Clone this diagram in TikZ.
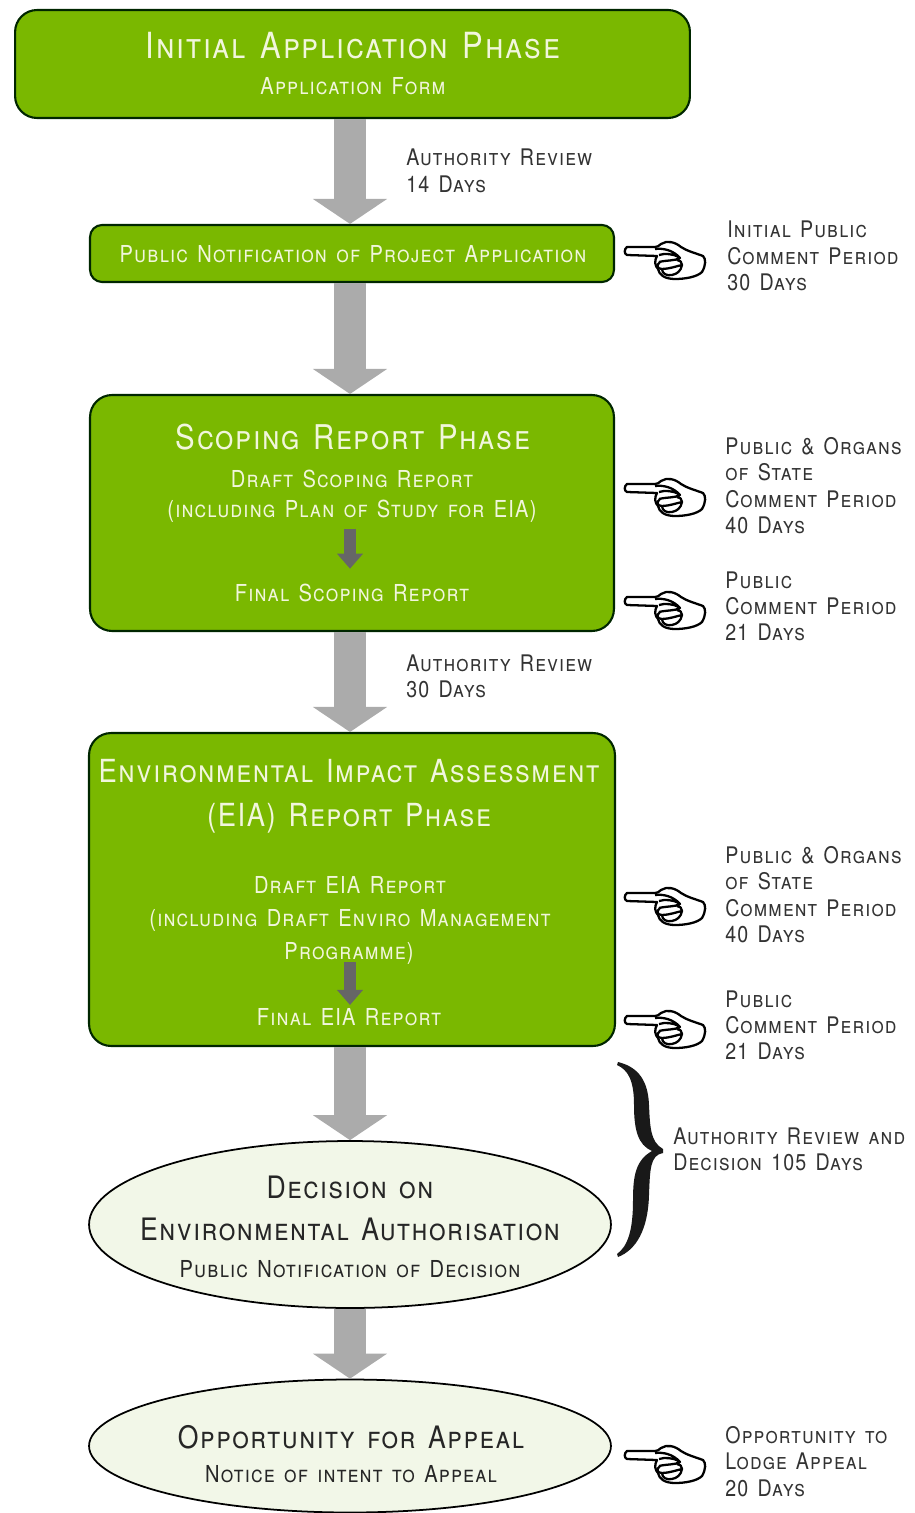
\documentclass[tikz,border=0pt]{standalone}
\usepackage{fontspec}
\setmainfont{TeX Gyre Heros}[Letters=SmallCaps,FakeStretch=0.86,LetterSpace=5,WordSpace=1.4]
\usetikzlibrary{arrows.meta,shapes.geometric}
\definecolor{phasegreen}{HTML}{7AB800}
\definecolor{palegreen}{HTML}{F2F7E8}
\definecolor{creamtext}{HTML}{F1F6DC}
\definecolor{flowgrey}{HTML}{ABABAB}
\definecolor{stepgrey}{HTML}{666666}
\definecolor{notetext}{HTML}{333333}
\tikzset{
  phasebox/.style={draw=black!85!green,line width=1.2pt,fill=phasegreen,rounded corners=0.44cm},
  ovalbox/.style={draw=black,line width=1pt,fill=palegreen,ellipse},
  flowarrow/.style={draw=flowgrey,line width=0.64cm,-{Triangle[length=0.5cm,width=1.46cm]}},
  steparrow/.style={draw=stepgrey,line width=0.24cm,-{Triangle[length=0.3cm,width=0.5cm]}},
  bigtext/.style={text=creamtext,font=\fontsize{#1}{#1}\selectfont,inner sep=0pt},
  midtext/.style={text=creamtext,font=\fontsize{13.3}{13.3}\selectfont,inner sep=0pt},
  ovalbig/.style={bigtext=17.6,text=black!85},
  ovalmid/.style={midtext,text=black!85},
  notetxt/.style={text=notetext,font=\fontsize{13}{15}\selectfont,anchor=north west,align=left,inner sep=0pt},
  handline/.style={draw=black,line width=1.3pt,fill=white,line join=round},
  pointer/.pic={
    \draw[handline] (0,-4) .. controls (-3,-2) and (-3,3) .. (0,4) -- (30,5) .. controls (27,10) and (28,15) .. (31,18)
      .. controls (32,24) and (38,28) .. (48,28) .. controls (58,28) and (70,26) .. (75,21)
      .. controls (79,14) and (79,8) .. (76,5) .. controls (68,2) and (60,0) .. (54,-4)
      .. controls (48,-9) and (40,-11) .. (34,-7) .. controls (32,-5) and (30,-4) .. (28,-4) -- cycle;
    \draw[handline,fill=none] (28,-2) .. controls (36,-3) and (46,-1) .. (53,7) .. controls (48,10) and (40,9) .. (32,11)
      (32,4) .. controls (38,2) and (46,3) .. (52,6)
      (33,11) .. controls (29,14) and (30,18) .. (35,18) .. controls (42,18) and (50,15) .. (55,14) .. controls (55,11) and (53,9) .. (50,9)
      (35,18) .. controls (35,23) and (40,25) .. (45,24) .. controls (50,23) and (54,20) .. (55,14);
  }
}
\begin{document}
\begin{tikzpicture}[x=0.02cm,y=-0.02cm]
\useasboundingbox (0,0) rectangle (915,1513);
\coordinate (spine) at (350,0);
% boxes
\node[phasebox,minimum width=13.5cm,minimum height=2.16cm] (appbox) at (352.5,64) {};
\node[phasebox,rounded corners=0.24cm,minimum width=10.48cm,minimum height=1.14cm] (noticebox) at (352,253.5) {};
\node[phasebox,minimum width=10.48cm,minimum height=4.72cm] (scopebox) at (352,513) {};
\node[phasebox,minimum width=10.52cm,minimum height=6.26cm] (eiabox) at (352,889.5) {};
\node[ovalbox,minimum width=10.44cm,minimum height=3.34cm,inner sep=0pt] (decisionoval) at (350,1224.5) {};
\node[ovalbox,minimum width=10.44cm,minimum height=2.66cm,inner sep=0pt] (appealoval) at (350,1446) {};
% big arrows
\draw[flowarrow] (appbox.south -| spine) -- (noticebox.north -| spine);
\draw[flowarrow] (noticebox.south -| spine) -- (scopebox.north -| spine);
\draw[flowarrow] (scopebox.south -| spine) -- (eiabox.north -| spine);
\draw[flowarrow] (eiabox.south -| spine) -- (decisionoval.north -| spine);
\draw[flowarrow] (decisionoval.south -| spine) -- (appealoval.north -| spine);
% box texts
\node[bigtext=20.5] (apptitle) at (353,46) {Initial Application Phase};
\node[midtext] (appform) at (353,86) {Application Form};
\node[midtext] (noticetext) at (353,254) {Public Notification of Project Application};
\node[bigtext=19.4] (scopetitle) at (353,437) {Scoping Report Phase};
\node[midtext] (scopedraft) at (352,479) {Draft Scoping Report};
\node[midtext] (scopeplan) at (352,511) {(including Plan of Study for EIA)};
\node[midtext] (scopefinal) at (352,593) {Final Scoping Report};
\node[bigtext=18.1] (eiatitle) at (349,771) {Environmental Impact Assessment};
\node[bigtext=18.1] (eiasub) at (349,818) {(EIA) Report Phase};
\node[midtext] (eiadraft) at (350,885) {Draft EIA Report};
\node[midtext] (eiaplan) at (350,920) {(including Draft Enviro Management};
\node[midtext] (eiaprog) at (349,953) {Programme)};
\node[midtext] (eiafinal) at (349,1017) {Final EIA Report};
\node[ovalbig] (decisiontop) at (350,1187) {Decision on};
\node[ovalbig] (decisionauth) at (350,1229) {Environmental Authorisation};
\node[ovalmid] (decisionnote) at (350,1269) {Public Notification of Decision};
\node[ovalbig] (appealtitle) at (351,1437) {Opportunity for Appeal};
\node[ovalmid] (appealnote) at (351,1474) {Notice of intent to Appeal};
% small arrows
\draw[steparrow,shorten <=0.12cm,shorten >=0.3cm] (scopeplan.south -| spine) -- (scopefinal.north -| spine);
\draw[steparrow,shorten <=-0.04cm,shorten >=0.06cm] (eiaprog.south -| spine) -- (eiafinal.north -| spine);
% side notes
\node[notetxt] (review1) at (406,149) {Authority Review\\14 Days};
\node[notetxt] (review2) at (406,654) {Authority Review\\30 Days};
\node[notetxt] (note1) at (727,221) {Initial Public\\Comment Period\\30 Days};
\node[notetxt] (note2) at (725,437) {Public \& Organs\\of State\\Comment Period\\40 Days};
\node[notetxt] (note3) at (725,571) {Public\\Comment Period\\21 Days};
\node[notetxt] (note4) at (725,846) {Public \& Organs\\of State\\Comment Period\\40 Days};
\node[notetxt] (note5) at (725,990) {Public\\Comment Period\\21 Days};
\node[notetxt] (note6) at (673,1127) {Authority Review and\\Decision 105 Days};
\node[notetxt] (note7) at (725,1426) {Opportunity to\\Lodge Appeal\\20 Days};
% hands
\foreach \y in {251,488,601,897,1020,1455} \pic at (627,\y) {pointer};
% brace
\fill[black!90] (618,1062) .. controls (634,1066) and (648,1076) .. (649,1105)
  .. controls (650,1125) and (650,1142) .. (663,1149) -- (663,1153)
  .. controls (650,1155) and (650,1170) .. (649,1195)
  .. controls (648,1230) and (636,1250) .. (618,1257) -- (617,1254)
  .. controls (628,1246) and (633,1230) .. (633,1200)
  .. controls (633,1175) and (636,1160) .. (652,1151)
  .. controls (638,1145) and (634,1130) .. (634,1105)
  .. controls (634,1080) and (628,1070) .. (617,1065) -- cycle;
\end{tikzpicture}
\end{document}
